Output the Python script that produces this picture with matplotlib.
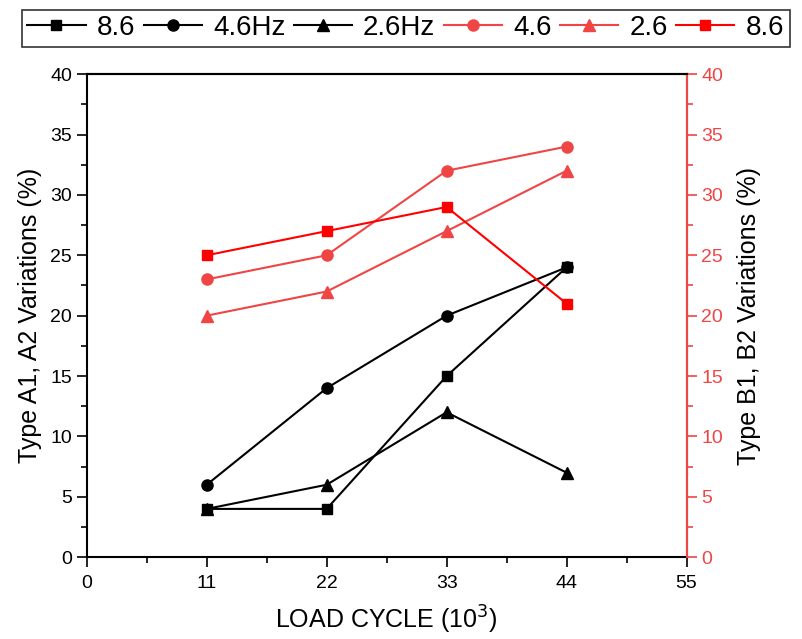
import matplotlib
matplotlib.use("Agg")
import matplotlib.pyplot as plt
from matplotlib.ticker import MultipleLocator

plt.rcParams['font.family'] = ['Liberation Sans', 'DejaVu Sans']

x = [11, 22, 33, 44]
a_86 = [4, 4, 15, 24]
a_46 = [6, 14, 20, 24]
a_26 = [4, 6, 12, 7]
b_46 = [23, 25, 32, 34]
b_26 = [20, 22, 27, 32]
b_86 = [25, 27, 29, 21]

labels = ["8.6", "4.6Hz", "2.6Hz", "4.6", "2.6", "8.6"]
red_light = "#f04545"
red = "#ff0000"

fig = plt.figure(figsize=(8.03, 6.39), dpi=100)
ax = fig.add_axes([0.108, 0.128, 0.747, 0.756])
ax2 = ax.twinx()

h1, = ax.plot(x, a_86, color="black", marker="s", ms=7, lw=1.5, label=labels[0])
h2, = ax.plot(x, a_46, color="black", marker="o", ms=8, lw=1.5, label=labels[1])
h3, = ax.plot(x, a_26, color="black", marker="^", ms=8, lw=1.5, label=labels[2])
h4, = ax2.plot(x, b_46, color=red_light, marker="o", ms=8, lw=1.5, label=labels[3])
h5, = ax2.plot(x, b_26, color=red_light, marker="^", ms=8, lw=1.5, label=labels[4])
h6, = ax2.plot(x, b_86, color=red, marker="s", ms=7, lw=1.5, label=labels[5])

for a in (ax, ax2):
    a.set_xlim(0, 55)
    a.set_ylim(0, 40)
    a.yaxis.set_major_locator(MultipleLocator(5))
    a.yaxis.set_minor_locator(MultipleLocator(2.5))

ax.xaxis.set_major_locator(MultipleLocator(11))
ax.xaxis.set_minor_locator(MultipleLocator(5.5))

ax.tick_params(axis="both", which="major", direction="out", length=7, width=1.2, labelsize=14)
ax.tick_params(axis="both", which="minor", direction="out", length=4, width=1.2)
ax.tick_params(axis="x", pad=6)
ax2.tick_params(axis="y", which="major", direction="out", length=7, width=1.2,
                labelsize=14, colors=red_light)
ax2.tick_params(axis="y", which="minor", direction="out", length=4, width=1.2, colors=red_light)

for s in ax.spines.values():
    s.set_linewidth(1.5)
ax2.spines["right"].set_color(red_light)
ax2.spines["right"].set_linewidth(1.5)
ax2.spines["left"].set_visible(False)
ax2.spines["top"].set_linewidth(1.5)
ax2.spines["bottom"].set_visible(False)

ax.set_xlabel("LOAD CYCLE (10$^3$)", fontsize=18, labelpad=8)
ax.set_ylabel("Type A1, A2 Variations (%)", fontsize=18, labelpad=6)
ax2.set_ylabel("Type B1, B2 Variations (%)", fontsize=18, color="black", labelpad=10)

leg = fig.legend(handles=[h1, h2, h3, h4, h5, h6], labels=labels, ncol=6,
                 loc="upper left", bbox_to_anchor=(0.027, 0.985), fontsize=20,
                 frameon=True, fancybox=False, edgecolor="black",
                 handlelength=2.1, handletextpad=0.4, columnspacing=0.3,
                 borderpad=0.2, borderaxespad=0)
leg.get_frame().set_linewidth(1.2)

fig.savefig("out.png", dpi=100)
